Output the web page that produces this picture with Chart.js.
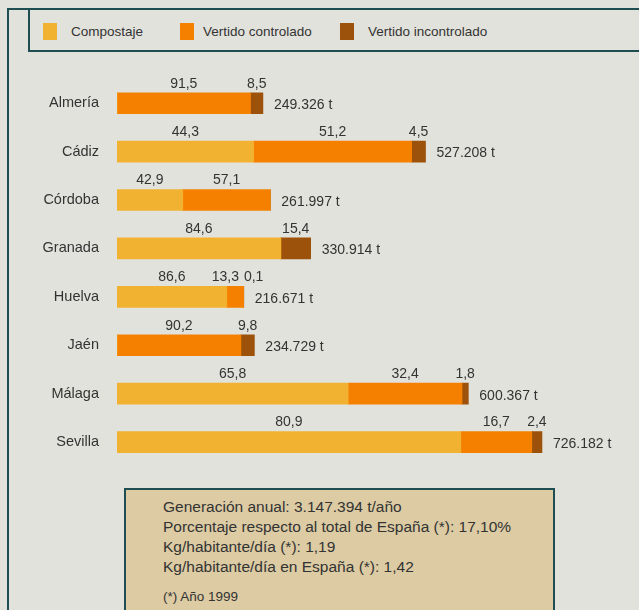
<!DOCTYPE html>
<html>
<head>
<meta charset="utf-8">
<script src="https://cdn.jsdelivr.net/npm/chart.js@4"></script>
<style>
    body { margin: 0; background: #e2e2dc; font-family: "Liberation Sans", Arial, sans-serif; color: #333; }
    #wrap { position: relative; width: 639px; height: 610px; overflow: hidden; }
    #frame { position: absolute; left: 7px; top: 8px; width: 700px; height: 700px; border-left: 2px solid #1e4e52; border-top: 2px solid #1e4e52; }
    #legend { position: absolute; left: 28px; top: 8px; width: 700px; height: 40px; border: 2px solid #1e4e52; }
    .item { position: absolute; top: 13px; font-size: 13.5px; line-height: 17px; }
    .item span.sw { position: absolute; left: 0; top: 0; width: 14px; height: 17px; }
    .item span.tx { position: absolute; white-space: nowrap; top: 0; }
    #chart { position: absolute; left: 0; top: 0; }
    #info { position: absolute; left: 124px; top: 488px; width: 390px; height: 140px; background: #dccba3; border: 2px solid #1e4e52; padding: 7px 0 0 37px; font-size: 15.5px; line-height: 20px; }
    #info .note { font-size: 13.5px; margin-top: 11px; line-height: 18px; }
</style>
</head>
<body>
<div id="wrap">
    <div id="frame"></div>
    <div id="legend"></div>
    <canvas id="chart" width="639" height="493"></canvas>
    <div id="info">
        Generación anual: 3.147.394 t/año<br>
        Porcentaje respecto al total de España (*): 17,10%<br>
        Kg/habitante/día (*): 1,19<br>
        Kg/habitante/día en España (*): 1,42
        <div class="note">(*) Año 1999</div>
    </div>
</div>
<script>
const provincias = ['Almería', 'Cádiz', 'Córdoba', 'Granada', 'Huelva', 'Jaén', 'Málaga', 'Sevilla'];
const toneladas = [249326, 527208, 261997, 330914, 216671, 234729, 600367, 726182];
const compostaje = [0, 44.3, 42.9, 84.6, 86.6, 0, 65.8, 80.9];
const controlado = [91.5, 51.2, 57.1, 0, 13.3, 90.2, 32.4, 16.7];
const incontrolado = [8.5, 4.5, 0, 15.4, 0.1, 9.8, 1.8, 2.4];
const seriesNames = ['Compostaje', 'Vertido controlado', 'Vertido incontrolado'];
const colors = ['#f0b230', '#f58000', '#9c520a'];

const pcts = [compostaje, controlado, incontrolado];

// legend (html)
const legendX = [13, 150, 310];
const legendTx = [28, 23, 28];
const legend = document.getElementById('legend');
seriesNames.forEach((name, i) => {
    const d = document.createElement('div');
    d.className = 'item';
    d.style.left = legendX[i] + 'px';
    d.innerHTML = `<span class="sw" style="background:${colors[i]}"></span><span class="tx" style="left:${legendTx[i]}px">${name}</span>`;
    legend.appendChild(d);
});

function fmtPct(v) {
    return v.toFixed(1).replace('.', ',');
}
function fmtTons(v) {
    return v.toString().replace(/\B(?=(\d{3})+(?!\d))/g, '.') + ' t';
}

const labelsPlugin = {
    id: 'barLabels',
    afterDatasetsDraw(chart) {
        const ctx = chart.ctx;
        const xs = chart.scales.x;
        ctx.save();
        ctx.fillStyle = '#333';
        ctx.font = '14px "Liberation Sans", Arial, sans-serif';
        ctx.textBaseline = 'middle';
        provincias.forEach((p, i) => {
            const bar = chart.getDatasetMeta(0).data[i];
            const yc = bar.y;
            const top = yc - bar.height / 2;
            // segment centres
            let items = [];
            let acc = 0;
            pcts.forEach(arr => {
                const v = toneladas[i] * arr[i] / 100;
                if (arr[i] > 0) {
                    const txt = fmtPct(arr[i]);
                    const c = (xs.getPixelForValue(acc) + xs.getPixelForValue(acc + v)) / 2;
                    items.push({ txt, x: c, w: ctx.measureText(txt).width });
                }
                acc += v;
            });
            // push apart labels that overlap
            for (let k = 1; k < items.length; k++) {
                const a = items[k - 1], b = items[k];
                const need = (a.w + b.w) / 2 + 5;
                if (b.x - a.x < need) {
                    const mid = (a.x + b.x) / 2;
                    a.x = mid - need / 2;
                    b.x = mid + need / 2;
                }
            }
            ctx.textAlign = 'center';
            items.forEach(it => ctx.fillText(it.txt, it.x, top - 9));
            ctx.textAlign = 'left';
            ctx.fillText(fmtTons(toneladas[i]), xs.getPixelForValue(toneladas[i]) + 11, yc + 2);
        });
        ctx.restore();
    }
};

new Chart(document.getElementById('chart'), {
    type: 'bar',
    data: {
        labels: provincias,
        datasets: pcts.map((arr, k) => ({
            label: seriesNames[k],
            data: arr.map((v, i) => toneladas[i] * v / 100),
            backgroundColor: colors[k],
            borderWidth: 0,
            barThickness: 21
        }))
    },
    options: {
        indexAxis: 'y',
        responsive: false,
        animation: false,
        layout: { padding: { top: 79, bottom: 0, left: 0, right: 0 } },
        scales: {
            x: {
                stacked: true,
                display: false,
                min: 0,
                max: 892000
            },
            y: {
                stacked: true,
                grid: { display: false, drawTicks: false },
                border: { display: false },
                afterFit(scale) { scale.width = 117; },
                ticks: {
                    color: '#333',
                    padding: 18,
                    font: { family: '"Liberation Sans", Arial, sans-serif', size: 14.5 }
                }
            }
        },
        plugins: {
            legend: { display: false },
            tooltip: { enabled: false }
        }
    },
    plugins: [labelsPlugin]
});
</script>
</body>
</html>
